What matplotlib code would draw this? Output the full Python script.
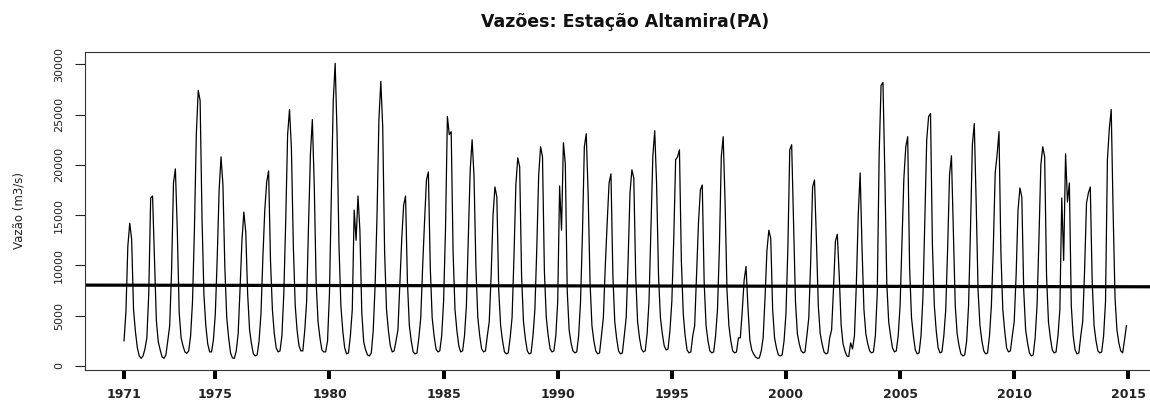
import matplotlib
matplotlib.use("Agg")
import matplotlib.pyplot as plt
import numpy as np

# monthly flows (m3/s), Jan..Dec
ano_inicial = 1971
vazao_mensal = [
    [2500, 5400, 11900, 14200, 12600, 5600, 3400, 1800, 1000, 760, 1000, 1700],      # 1971
    [2800, 7200, 16700, 16900, 10800, 4500, 2400, 1600, 900, 760, 1100, 2500],       # 1972
    [4000, 9500, 18200, 19600, 13500, 5300, 2800, 2000, 1400, 1260, 1500, 3000],     # 1973
    [6400, 13500, 23000, 27400, 26400, 14700, 7100, 4000, 2200, 1400, 1400, 2600],   # 1974
    [5200, 10800, 17500, 20800, 18000, 9800, 4800, 2800, 1300, 800, 760, 1500],      # 1975
    [3200, 7700, 12500, 15300, 13300, 7100, 3600, 2200, 1200, 1000, 1100, 2500],     # 1976
    [5200, 10800, 15500, 18300, 19400, 10500, 5600, 3200, 1800, 1400, 1500, 3000],   # 1977
    [7200, 14400, 23000, 25500, 21600, 12000, 6000, 3500, 2000, 1500, 1500, 3500],   # 1978
    [6400, 14000, 21100, 24500, 18000, 8300, 4400, 2800, 1600, 1400, 1400, 2500],    # 1979
    [7200, 17100, 26400, 30100, 23100, 12000, 6000, 3500, 1800, 1200, 1300, 3000],   # 1980
    [5600, 15500, 12500, 16900, 13500, 5300, 2400, 1600, 1100, 1000, 1300, 3500],    # 1981
    [8000, 14900, 24500, 28300, 23800, 11300, 5600, 3500, 2000, 1400, 1500, 2500],   # 1982
    [3600, 8100, 12600, 16000, 16900, 8300, 4000, 2500, 1400, 1200, 1300, 2800],     # 1983
    [4800, 9900, 14400, 18500, 19300, 9800, 4800, 3000, 1700, 1400, 1500, 3000],     # 1984
    [6400, 13500, 24800, 23000, 23300, 11300, 5600, 3500, 2000, 1400, 1500, 3000],   # 1985
    [6000, 12600, 19500, 22500, 18900, 9800, 4800, 3000, 1700, 1400, 1500, 3000],    # 1986
    [4400, 9000, 15000, 17800, 16800, 7500, 4000, 2500, 1400, 1200, 1300, 2800],     # 1987
    [4800, 10800, 18000, 20700, 19800, 9000, 4400, 2700, 1500, 1200, 1300, 3000],    # 1988
    [5600, 11700, 19000, 21800, 20800, 9400, 4800, 3000, 1700, 1400, 1500, 3000],    # 1989
    [6400, 17900, 13500, 22200, 20100, 7500, 3600, 2300, 1500, 1300, 1400, 3000],    # 1990
    [6400, 13100, 21800, 23100, 17100, 8300, 4000, 2500, 1500, 1200, 1300, 3000],    # 1991
    [4800, 9900, 14200, 18200, 19100, 9000, 4400, 2700, 1500, 1200, 1300, 3000],     # 1992
    [4800, 10400, 17200, 19500, 18700, 9000, 4400, 2800, 1700, 1400, 1500, 3200],    # 1993
    [6400, 13500, 20800, 23400, 18000, 9000, 4800, 3200, 2000, 1600, 1700, 3500],    # 1994
    [6400, 12600, 20500, 20800, 21500, 10500, 5200, 3000, 1600, 1300, 1400, 3000],   # 1995
    [4000, 9000, 14200, 17500, 18000, 8300, 4000, 2500, 1500, 1300, 1400, 3000],     # 1996
    [5600, 11700, 20800, 22800, 16200, 7500, 4000, 2500, 1500, 1300, 1400, 2800],    # 1997
    [2800, 5400, 8500, 9900, 5900, 2600, 1600, 1200, 900, 760, 800, 1500],           # 1998
    [2800, 6800, 11500, 13500, 12700, 5600, 2800, 1800, 1100, 1000, 1100, 2500],     # 1999
    [5200, 11700, 21500, 22000, 14400, 6400, 3200, 2200, 1500, 1300, 1400, 3000],    # 2000
    [4800, 10400, 17800, 18500, 12600, 6000, 3200, 2200, 1400, 1200, 1300, 2800],    # 2001
    [3600, 7700, 12400, 13100, 9000, 4100, 2200, 1500, 1000, 930, 2300, 1700],       # 2002
    [3000, 8100, 15000, 19200, 11700, 5600, 3200, 2200, 1500, 1300, 1400, 3000],     # 2003
    [7200, 21100, 27900, 28200, 18900, 8300, 4400, 3000, 1800, 1400, 1500, 3000],    # 2004
    [6000, 12200, 18700, 21800, 22800, 9800, 4800, 3000, 1600, 1200, 1300, 3000],    # 2005
    [6800, 14400, 22500, 24800, 25100, 12000, 6000, 3500, 1800, 1300, 1400, 3000],   # 2006
    [5600, 11700, 19000, 20900, 13500, 6000, 3200, 2000, 1200, 1000, 1100, 2500],    # 2007
    [6000, 13500, 22000, 24100, 16200, 7500, 4000, 2500, 1500, 1200, 1300, 3000],    # 2008
    [6000, 11700, 19200, 21000, 23300, 11300, 5600, 3500, 1800, 1400, 1500, 3000],   # 2009
    [4400, 9000, 15500, 17700, 16800, 7500, 3600, 2300, 1300, 1000, 1100, 2800],     # 2010
    [6000, 12600, 20000, 21800, 20800, 9000, 4400, 2800, 1600, 1300, 1400, 3000],    # 2011
    [5600, 16700, 10500, 21100, 16300, 18200, 6000, 3000, 1600, 1200, 1300, 3000],   # 2012
    [4400, 9500, 16200, 17200, 17800, 8300, 4000, 2500, 1500, 1300, 1400, 3000],     # 2013
    [6400, 20500, 23600, 25500, 15300, 6800, 3600, 2300, 1500, 1300, 2600, 4000],    # 2014
]
anos_ticks = [1971, 1975, 1980, 1985, 1990, 1995, 2000, 2005, 2010, 2015]
y_ticks = [0, 5000, 10000, 15000, 20000, 25000, 30000]

vazao = np.array(vazao_mensal, dtype=float).ravel()
tempo = ano_inicial + np.arange(len(vazao)) / 12.0

# linear trend, like abline(lm(...)) in R
b, a = np.polyfit(tempo, vazao, 1)

fig = plt.figure(figsize=(11.5, 4.01), dpi=100)
ax = fig.add_axes([85 / 1150, 31 / 401, 1081 / 1150, 318.3 / 401])

ax.plot(tempo, vazao, color="black", lw=0.9)
ax.axline((tempo[0], a + b * tempo[0]), slope=b, color="black", lw=2.3)

ax.set_xlim(1969.29, 2016.65)
ax.set_ylim(-400, 31250)

for s in ["top", "left", "bottom"]:
    ax.spines[s].set_color("#333333")
    ax.spines[s].set_linewidth(0.8)
ax.spines["right"].set_visible(False)

ax.set_xticks(anos_ticks)
ax.set_xticklabels([str(v) for v in anos_ticks], fontsize=9, fontweight="bold",
                   color="#222222")
ax.tick_params(axis="x", length=6.5, width=2.9, pad=6.5, color="black")

ax.set_yticks(y_ticks)
ax.set_yticklabels([str(v) for v in y_ticks], fontsize=8, rotation=90,
                   va="center", color="#222222")
ax.tick_params(axis="y", length=7, width=0.8, pad=8, color="#222222")

ax.set_ylabel("Vazão (m3/s)", fontsize=8.5, color="#222222")
ax.yaxis.set_label_coords(-0.0555, 0.5)

ax.set_title("Vazões: Estação Altamira(PA)", fontsize=12.5, fontweight="bold",
             pad=17.5, color="#111111")

fig.savefig("out.png", dpi=100)
